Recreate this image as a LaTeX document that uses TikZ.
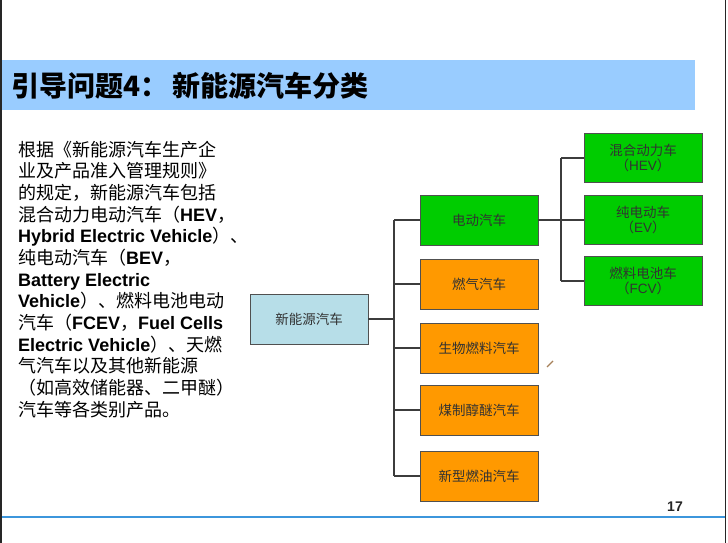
\documentclass[tikz,border=0pt]{standalone}
\usepackage{fontspec}
\setmainfont{Liberation Sans}
\newfontfamily\cjk{Noto Sans CJK SC}
\definecolor{band}{RGB}{153,204,255}
\definecolor{rootc}{RGB}{183,222,232}
\definecolor{greenc}{RGB}{0,204,0}
\definecolor{orangec}{RGB}{255,153,0}
\definecolor{linec}{RGB}{60,60,60}
\definecolor{bluel}{RGB}{60,150,220}
\definecolor{boxtext}{RGB}{50,50,50}
\newcommand\En[1]{{\bfseries #1}}
\tikzset{
  txt/.style={anchor=base west,inner sep=0pt,font=\fontsize{18}{18}\selectfont},
  boxbase/.style={draw=linec!90,line width=0.9pt,minimum width=118pt,minimum height=50pt,inner sep=0pt,align=center,text=boxtext,font=\cjk\fontsize{13.5}{15}\selectfont},
  rootbox/.style={boxbase,fill=rootc},
  greenbox/.style={boxbase,fill=greenc},
  orangebox/.style={boxbase,fill=orangec},
  subbox/.style={boxbase,fill=greenc,minimum height=49pt,font=\cjk\fontsize{13.5}{15.5}\selectfont},
  conn/.style={draw=linec,line width=1.1pt}
}
\begin{document}
\begin{tikzpicture}[x=1pt,y=-1pt]
\useasboundingbox (0,0) rectangle (728,543);
\fill[white] (0,0) rectangle (728,543);
% borders
\draw[line width=2pt,black!85] (1,0) -- (1,543);
\draw[line width=1.5pt,black!85] (725.5,0) -- (725.5,543);
% title band
\fill[band] (2,60) rectangle (695,110);
\node[anchor=west,inner sep=0pt,font=\cjk\bfseries\fontsize{28}{28}\selectfont] (title) at (11,86) {引导问题4：\hspace{4pt}新能源汽车分类};
% body text
\node[txt] (l1) at (18,156) {\cjk 根据《新能源汽车生产企};
\node[txt] (l2) at (18,177.7) {\cjk 业及产品准入管理规则》};
\node[txt] (l3) at (18,199.3) {\cjk 的规定，新能源汽车包括};
\node[txt] (l4) at (18,221) {{\cjk 混合动力电动汽车（}\En{HEV}{\cjk ，}};
\node[txt] (l5) at (18,242.7) {\En{Hybrid Electric Vehicle}{\cjk ）、}};
\node[txt] (l6) at (18,264.3) {{\cjk 纯电动汽车（}\En{BEV}{\cjk ，}};
\node[txt] (l7) at (18,286) {\En{Battery Electric}};
\node[txt] (l8) at (18,307.7) {\En{Vehicle}{\cjk ）、燃料电池电动}};
\node[txt] (l9) at (18,329.3) {{\cjk 汽车（}\En{FCEV}{\cjk ，}\En{Fuel Cells}};
\node[txt] (l10) at (18,351) {\En{Electric Vehicle}{\cjk ）、天燃}};
\node[txt] (l11) at (18,372.7) {\cjk 气汽车以及其他新能源};
\node[txt] (l12) at (18,394.3) {\cjk （如高效储能器、二甲醚）};
\node[txt] (l13) at (18,416) {\cjk 汽车等各类别产品。};
% diagram
\node[rootbox] (root) at (309,319) {新能源汽车};
\node[greenbox] (c1) at (479,220) {电动汽车};
\node[orangebox] (c2) at (479,284) {燃气汽车};
\node[orangebox] (c3) at (479,348) {生物燃料汽车};
\node[orangebox] (c4) at (479,410) {煤制醇醚汽车};
\node[orangebox] (c5) at (479,476) {新型燃油汽车};
\node[subbox] (g1) at (643,158) {混合动力车\\（{\rmfamily HEV}）};
\node[subbox] (g2) at (643,220) {纯电动车\\（{\rmfamily EV}）};
\node[subbox] (g3) at (643,281) {燃料电池车\\（{\rmfamily FCV}）};
\coordinate (t1) at (394,319);
\coordinate (t2) at (561,220);
\draw[conn] (root.east) -- (t1);
\draw[conn] (t1 |- c1.west) -- (t1 |- c5.west);
\foreach \c in {c1,c2,c3,c4,c5} \draw[conn] (t1 |- \c.west) -- (\c.west);
\draw[conn] (c1.east) -- (t2);
\draw[conn] (t2 |- g1.west) -- (t2 |- g3.west);
\foreach \g in {g1,g2,g3} \draw[conn] (t2 |- \g.west) -- (\g.west);
% pencil mark
\draw[line width=1.2pt,brown!60!gray] (547,367) -- (553,361);
% bottom line and page number
\draw[line width=2.5pt,bluel] (2,517) -- (725,517);
\node[inner sep=0pt,font=\bfseries\fontsize{14}{14}\selectfont,text=black!85] (pg) at (675,507) {17};
\end{tikzpicture}
\end{document}
